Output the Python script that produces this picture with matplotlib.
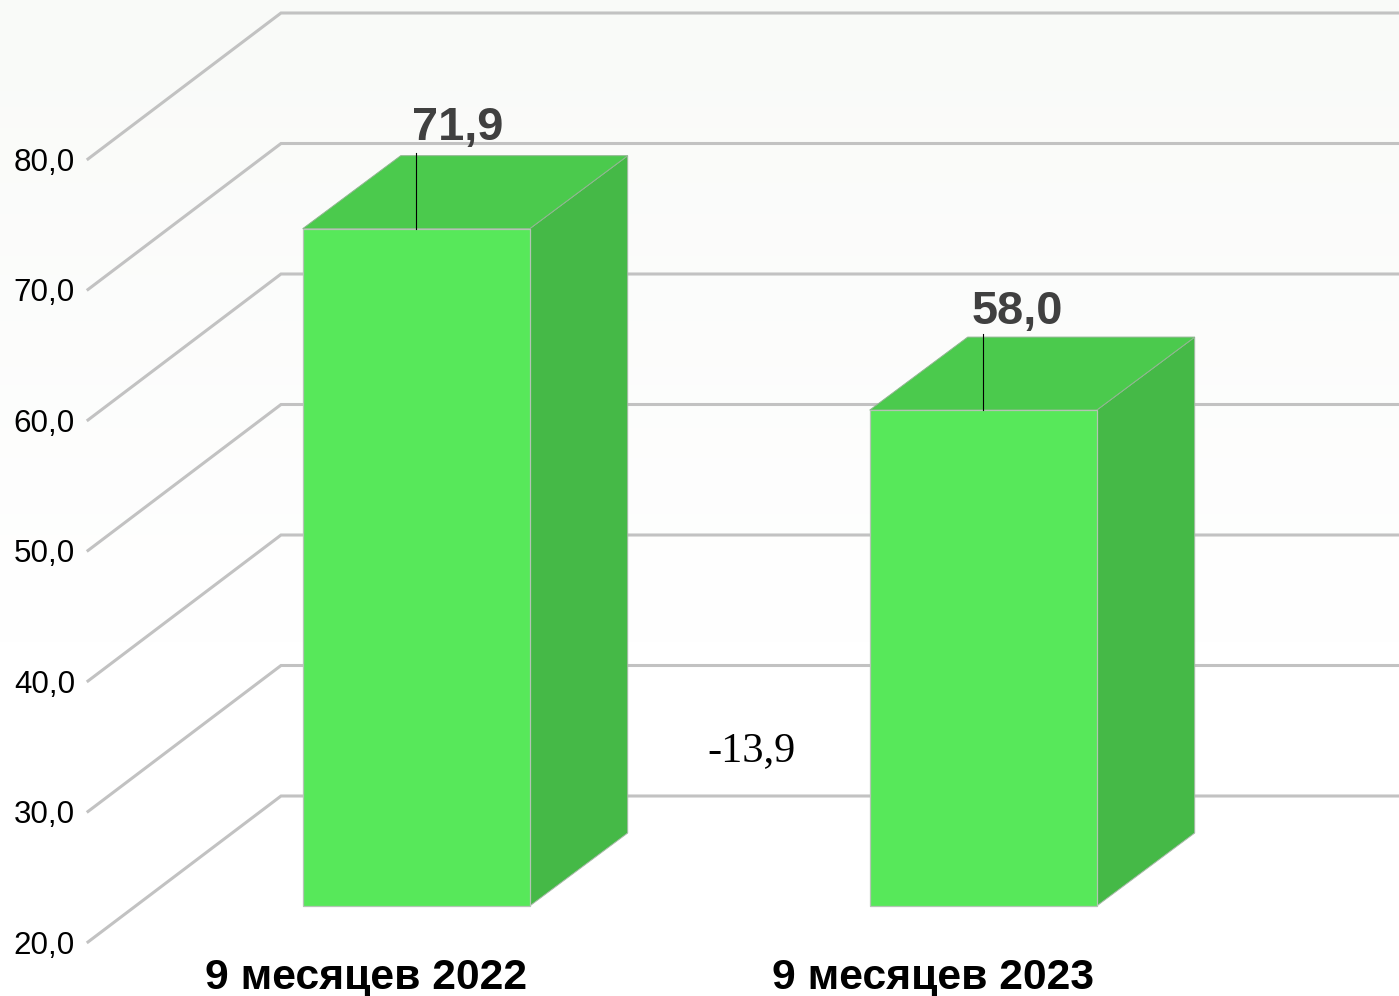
import matplotlib
matplotlib.use("Agg")
import matplotlib.pyplot as plt
import numpy as np
from matplotlib.patches import Polygon

categories = ["9 месяцев 2022", "9 месяцев 2023"]
values = [71.9, 58.0]
change = [-13.9]
ticks = [20, 30, 40, 50, 60, 70, 80]

plt.rcParams["font.family"] = ["Liberation Sans", "DejaVu Sans"]

W, H = 1399, 996
# pixels per category / per 1 value unit, pixel of category 0 and of value 20
sx, sy = 567.0, 13.05
x0, y0 = 416.2, 906.0

# value labels are not placed the same way over both bars (pixels)
label_dx = [41, 34]
label_dy = [28, 25]


def fmt(v):
    return f"{v:.1f}".replace(".", ",")


fig = plt.figure(figsize=(W / 100, H / 100), dpi=100)
ax = fig.add_axes([0, 0, 1, 1])
ax.set_xlim(-x0 / sx, (W - x0) / sx)
ax.set_ylim(20 - (H - y0) / sy, 20 + y0 / sy)
ax.axis("off")

# faint background gradient
grad = np.ones((H, 1, 3))
fade = np.clip(np.linspace(1, 0, H) * 1.55 - 0.55, 0, 1)[:, None]
grad[:, :, 0] = 1 - fade * 6 / 255
grad[:, :, 1] = 1 - fade * 5 / 255
grad[:, :, 2] = 1 - fade * 7 / 255
ax.imshow(grad, extent=[*ax.get_xlim(), *ax.get_ylim()], aspect="auto", zorder=0)

# grid: oblique part on the floor/side wall and flat part on the back wall
front_x, back_x = (88 - x0) / sx, (281 - x0) / sx
front_dy, back_dy = -36 / sy, 110 / sy
for t in ticks:
    ax.plot([front_x, back_x, ax.get_xlim()[1]],
            [t + front_dy, t + back_dy, t + back_dy],
            color="#c2c2c2", lw=2.2, solid_joinstyle="miter", zorder=1)
    ax.text((75 - x0) / sx, t + front_dy - 0.3, fmt(t), ha="right", va="center",
            fontsize=22.6, color="black", zorder=5)

# bars
half = 113.5 / sx
depth_x, depth_y = 98 / sx, 73 / sy
for i, (cat, v) in enumerate(zip(categories, values)):
    l, r = i - half, i + half
    side = [(r, 20), (r + depth_x, 20 + depth_y), (r + depth_x, v + depth_y), (r, v)]
    top = [(l, v), (l + depth_x, v + depth_y), (r + depth_x, v + depth_y), (r, v)]
    ax.add_patch(Polygon(side, fc="#45b947", ec="#a8b8a8", lw=0.7, zorder=2))
    ax.add_patch(Polygon(top, fc="#4bca4d", ec="#8fb58f", lw=0.7, zorder=2))
    ax.bar(i, v - 20, bottom=20, width=2 * half, color="#57e85a", edgecolor="#b4c4b4",
           linewidth=0.9, zorder=3)
    # leader line and value label
    ax.plot([i, i], [v, v + depth_y + 3 / sy], color="black", lw=0.8, zorder=4)
    ax.text(i + label_dx[i] / sx, v + depth_y + label_dy[i] / sy, fmt(v), ha="center", va="center",
            fontsize=33.8, fontweight="bold", color="#404040", zorder=5)
    ax.text(i - 50 / sx, 20 - 72 / sy, cat, ha="center", va="center",
            fontsize=30.7, fontweight="bold", color="black", zorder=5)

ax.text(0.592, 31.9, fmt(change[0]), ha="center", va="center", fontsize=30.5,
        family=["Liberation Serif", "DejaVu Serif"], color="black", zorder=5)

fig.savefig("out.png", dpi=100)
